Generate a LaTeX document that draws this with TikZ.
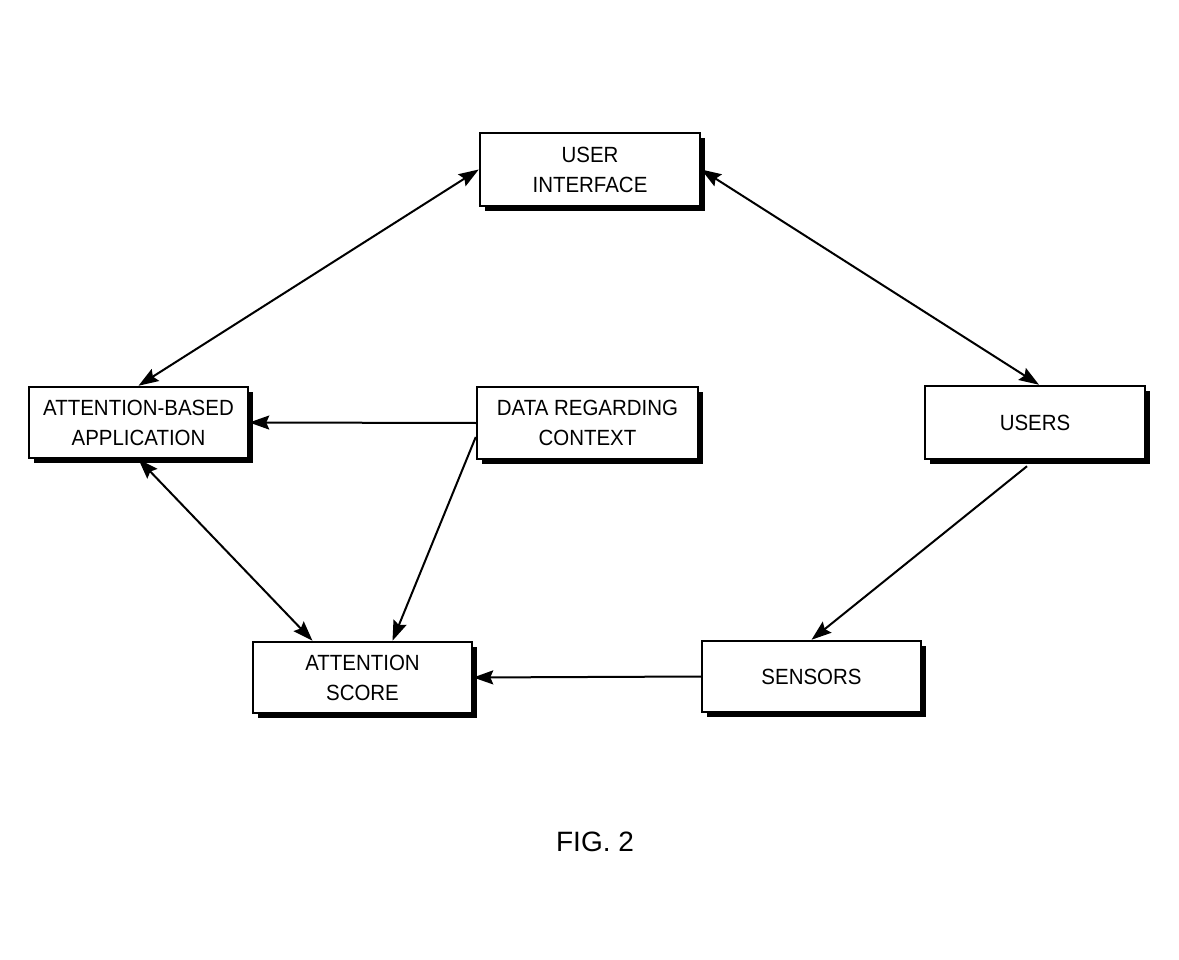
\documentclass[tikz,border=0pt]{standalone}
\usepackage{fontspec}
\setmainfont{Liberation Sans}
\newfontfamily\boxfont[FakeStretch=0.93]{Liberation Sans}
\usetikzlibrary{arrows.meta,shadows,calc}
\begin{document}
\begin{tikzpicture}[x=1pt,y=-1pt,
  blk/.style={draw=black, line width=2.5pt, fill=white, minimum width=219pt, minimum height=71pt,
    inner sep=0pt, align=center, font=\boxfont\fontsize{22}{30}\selectfont,
    drop shadow={shadow xshift=5pt, shadow yshift=-5pt, fill=black, opacity=1}},
  conn/.style={line width=2pt, -{Stealth[length=20pt,width=14pt,inset=3pt]}},
  biconn/.style={line width=2pt, {Stealth[length=20pt,width=14pt,inset=3pt]}-{Stealth[length=20pt,width=14pt,inset=3pt]}}
]
\useasboundingbox (0,0) rectangle (1179,960);
\node[blk, minimum width=220pt, minimum height=73pt] (ui) at (590,169.5) {USER\\INTERFACE};
\node[blk] (app) at (138.5,422.5) {ATTENTION-BASED\\APPLICATION};
\node[blk, minimum width=221pt, minimum height=72pt] (data) at (587.5,423) {DATA REGARDING\\CONTEXT};
\node[blk, minimum width=220pt, minimum height=73pt] (users) at (1035,422.5) {USERS};
\node[blk] (score) at (362.5,677.5) {ATTENTION\\SCORE};
\node[blk] (sensors) at (811.5,676.5) {SENSORS};
\node[font=\fontsize{28}{32}\selectfont] (fig) at (595,842) {FIG. 2};

\draw[biconn] (ui.west) -- (app.north);
\draw[biconn] (ui.east) -- ([xshift=4pt]users.north);
\draw[conn] (data.west) -- (app.east);
\draw[conn] ([yshift=-14pt]data.west) -- ([xshift=30pt]score.north);
\draw[biconn] (app.south) -- ([xshift=-50pt]score.north);
\draw[conn] ([xshift=-8pt,yshift=-6pt]users.south) -- (sensors.north);
\draw[conn] (sensors.west) -- (score.east);
\end{tikzpicture}
\end{document}
